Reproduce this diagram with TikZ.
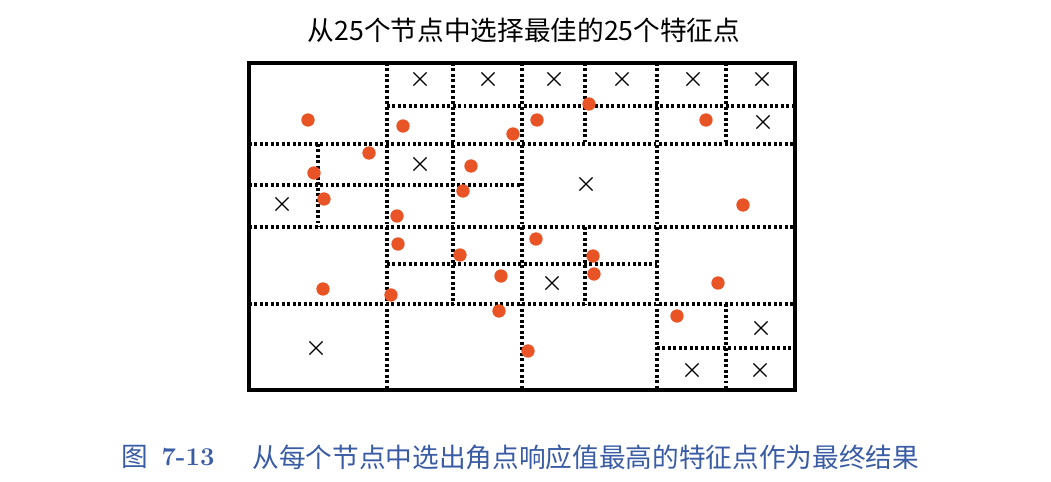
\documentclass[tikz,border=0pt]{standalone}
\usepackage{fontspec}
\newfontfamily\cjk{Noto Sans CJK SC}
\usetikzlibrary{shapes.misc}
\definecolor{dotorange}{RGB}{233,84,38}
\definecolor{capblue}{RGB}{58,92,165}
\tikzset{every picture/.style={line width=0.75pt}}

\begin{document}
\begin{tikzpicture}[x=0.75pt,y=0.75pt,yscale=-1,xscale=1,
  gridline/.style={line width=2.4pt, dash pattern={on 2.2pt off 1.9pt}},
  featdot/.style={circle, fill=dotorange, inner sep=0pt, minimum size=10pt},
  rejmark/.style={cross out, draw, inner sep=0pt, minimum size=8.8pt, line width=1pt}]
\useasboundingbox (0,0) rectangle (1051,482);

%Shape: Rectangle [id:frame]
\draw [line width=2.3pt] (249,63) rectangle (795,390) ;

%Straight Lines [id:rows]
\draw [gridline] (387,106) -- (795,106) ;
\draw [gridline] (249,144) -- (795,144) ;
\draw [gridline] (249,185) -- (522,185) ;
\draw [gridline] (249,227) -- (795,227) ;
\draw [gridline] (387,264) -- (657,264) ;
\draw [gridline] (249,304) -- (795,304) ;
\draw [gridline] (657,348) -- (795,348) ;
%Straight Lines [id:cols]
\draw [gridline] (318,144) -- (318,227) ;
\draw [gridline] (387,63) -- (387,390) ;
\draw [gridline] (453,63) -- (453,304) ;
\draw [gridline] (522,63) -- (522,390) ;
\draw [gridline] (585,63) -- (585,144) ;
\draw [gridline] (585,227) -- (585,304) ;
\draw [gridline] (657,63) -- (657,390) ;
\draw [gridline] (726,63) -- (726,144) ;
\draw [gridline] (726,304) -- (726,390) ;

%Shape: Cross [id:rejected]
\node [rejmark] (x1) at (420,79) {} ;
\node [rejmark] (x2) at (488,79) {} ;
\node [rejmark] (x3) at (554,79) {} ;
\node [rejmark] (x4) at (622,79) {} ;
\node [rejmark] (x5) at (693,79) {} ;
\node [rejmark] (x6) at (762,79) {} ;
\node [rejmark] (x7) at (763,122) {} ;
\node [rejmark] (x8) at (420,164) {} ;
\node [rejmark] (x9) at (586,184) {} ;
\node [rejmark] (x10) at (282,204) {} ;
\node [rejmark] (x11) at (552,283) {} ;
\node [rejmark] (x12) at (761,328) {} ;
\node [rejmark] (x13) at (316,348) {} ;
\node [rejmark] (x14) at (692,370) {} ;
\node [rejmark] (x15) at (760,370) {} ;

%Shape: Circle [id:kept]
\node [featdot] (p1) at (308,120) {} ;
\node [featdot] (p2) at (403,126) {} ;
\node [featdot] (p3) at (513,134) {} ;
\node [featdot] (p4) at (537,120) {} ;
\node [featdot] (p5) at (589,104) {} ;
\node [featdot] (p6) at (706,120) {} ;
\node [featdot] (p7) at (369,153) {} ;
\node [featdot] (p8) at (314,173) {} ;
\node [featdot] (p9) at (471,166) {} ;
\node [featdot] (p10) at (463,191) {} ;
\node [featdot] (p11) at (324,199) {} ;
\node [featdot] (p12) at (397,216) {} ;
\node [featdot] (p13) at (743,205) {} ;
\node [featdot] (p14) at (536,239) {} ;
\node [featdot] (p15) at (398,244) {} ;
\node [featdot] (p16) at (460,255) {} ;
\node [featdot] (p17) at (593,256) {} ;
\node [featdot] (p18) at (594,274) {} ;
\node [featdot] (p19) at (501,276) {} ;
\node [featdot] (p20) at (718,283) {} ;
\node [featdot] (p21) at (323,289) {} ;
\node [featdot] (p22) at (391,295) {} ;
\node [featdot] (p23) at (499,311) {} ;
\node [featdot] (p24) at (677,316) {} ;
\node [featdot] (p25) at (528,351) {} ;

% Text Node
\draw (524,30) node (title) [inner sep=0.75pt] [font=\fontsize{20}{24}\selectfont\cjk] {从25个节点中选择最佳的25个特征点};
% Text Node
\draw (135,457) node (figlbl) [inner sep=0.75pt] [font=\fontsize{20}{24}\selectfont\cjk, text=capblue] {图};
% Text Node
\draw (188,457) node (fignum) [inner sep=0.75pt] [font=\fontsize{19.2}{23}\selectfont\bfseries, text=capblue] {7-13};
% Text Node
\draw (252,457) node (figcap) [anchor=west][inner sep=0pt] [font=\fontsize{20}{24}\selectfont\cjk, text=capblue] {从每个节点中选出角点响应值最高的特征点作为最终结果};

\end{tikzpicture}
\end{document}
